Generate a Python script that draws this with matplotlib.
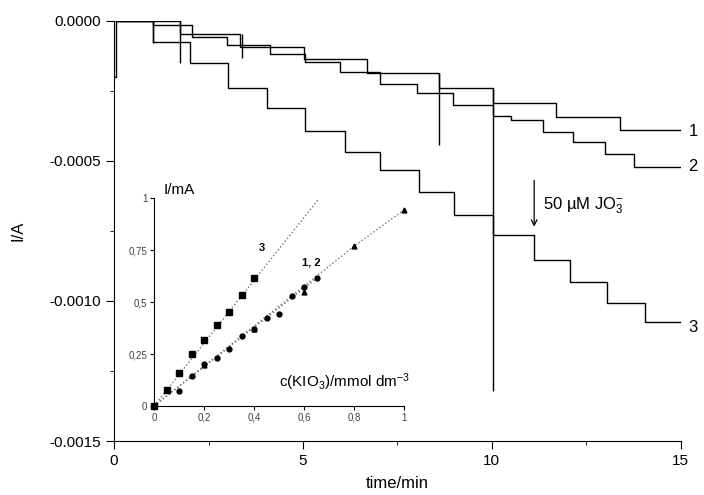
import numpy as np
import matplotlib
matplotlib.use("Agg")
import matplotlib.pyplot as plt
from matplotlib.ticker import MultipleLocator, FormatStrFormatter, FuncFormatter

plt.rcParams['font.family'] = ['Liberation Sans', 'DejaVu Sans']
plt.rcParams['mathtext.fontset'] = 'custom'
plt.rcParams['mathtext.rm'] = 'Liberation Sans'
plt.rcParams['mathtext.it'] = 'Liberation Sans'
plt.rcParams['axes.unicode_minus'] = False

# chronoamperometric traces, step times (min) and current levels (1e-4 A)
t1 = [0, 0.05, 1.75, 3.34, 5.04, 6.69, 8.61, 10.04, 11.7, 13.38, 15]
i1 = [-2.0, 0, -0.48, -0.95, -1.37, -1.88, -2.41, -2.95, -3.43, -3.9, -3.9]
t1_spike = [1.75, 3.38, 8.61, 10.04]
i1_spike = [-1.52, -1.33, -4.44, -13.2]

t2 = [0.05, 1.04, 2.06, 2.98, 4.13, 5.06, 5.98, 7.04, 8.01, 8.98, 10.04,
      10.5, 11.35, 12.15, 13.0, 13.75, 15]
i2 = [0, -0.15, -0.57, -0.87, -1.17, -1.46, -1.82, -2.24, -2.59, -3.0, -3.4,
      -3.55, -3.96, -4.32, -4.74, -5.21, -5.21]
t2_spike = [1.04]
i2_spike = [-0.81]

t3 = [0.05, 1.02, 2.01, 3.01, 4.04, 5.06, 6.1, 7.04, 8.06, 9.0, 10.04,
      11.12, 12.07, 13.04, 14.06, 15]
i3 = [0, -0.75, -1.52, -2.39, -3.13, -3.94, -4.68, -5.33, -6.1, -6.94, -7.65,
      -8.55, -9.32, -10.09, -10.75, -10.75]

# inset calibration data
c3 = [0, 0.05, 0.1, 0.15, 0.2, 0.25, 0.3, 0.35, 0.4]
I3 = [0, 0.075, 0.16, 0.25, 0.32, 0.39, 0.455, 0.535, 0.615]
c1 = [0, 0.1, 0.15, 0.2, 0.25, 0.3, 0.35, 0.4, 0.45, 0.5, 0.55, 0.6, 0.65]
I1 = [0, 0.072, 0.143, 0.2, 0.229, 0.274, 0.337, 0.369, 0.424, 0.443, 0.53, 0.575, 0.615]
c2 = [0, 0.2, 0.4, 0.6, 0.8, 1.0]
I2 = [0, 0.195, 0.37, 0.55, 0.77, 0.945]
fit3_c, fit3_I = [0, 0.66], [0, 1.0]
fit1_c, fit1_I = [0, 0.65], [0, 0.615]
fit2_c, fit2_I = [0, 0.8, 1.0], [0, 0.77, 0.945]

scale = 1e-4
fig = plt.figure(figsize=(7.04, 4.95), dpi=100)
ax = fig.add_axes([0.162, 0.109, 0.805, 0.849])

for t, i in [(t1, i1), (t2, i2), (t3, i3)]:
    ax.step(t, np.array(i) * scale, where='post', color='black', lw=1.0)

def level_at(t, i, x):
    k = np.searchsorted(t, x, side='right') - 1
    return i[max(k - 1, 0)]

for ts, isp, t, i in [(t1_spike, i1_spike, t1, i1), (t2_spike, i2_spike, t2, i2)]:
    tops = [level_at(t, i, x) * scale for x in ts]
    ax.vlines(ts, tops, np.array(isp) * scale, color='black', lw=1.0)

ax.set_xlim(0, 15)
ax.set_ylim(-0.0015, 0)
for s in ['top', 'right']:
    ax.spines[s].set_visible(False)
ax.xaxis.set_major_locator(MultipleLocator(5))
ax.xaxis.set_minor_locator(MultipleLocator(2.5))
ax.yaxis.set_major_locator(MultipleLocator(0.0005))
ax.yaxis.set_minor_locator(MultipleLocator(0.00025))
ax.yaxis.set_major_formatter(FormatStrFormatter('%.4f'))
ax.tick_params(which='major', direction='out', length=6, labelsize=11)
ax.tick_params(which='minor', direction='out', length=3)
ax.set_xlabel('time/min', fontsize=12)
ax.set_ylabel('I/A', fontsize=12)
ax.xaxis.set_label_coords(0.5, -0.082)
ax.yaxis.set_label_coords(-0.157, 0.5)

ax.text(15.2, -3.95e-4, '1', fontsize=12, va='center')
ax.text(15.2, -5.2e-4, '2', fontsize=12, va='center')
ax.text(15.2, -10.95e-4, '3', fontsize=12, va='center')

ax.annotate('', xy=(11.12, -7.45e-4), xytext=(11.12, -5.6e-4),
            arrowprops=dict(arrowstyle='->', color='black', lw=0.9))
ax.text(11.35, -6.6e-4, '50 µM JO$_3^{-}$', fontsize=12, va='center')

# inset
ins = fig.add_axes([0.219, 0.180, 0.355, 0.419])
ins.plot(fit3_c, fit3_I, ':', color='0.45', lw=1.0)
ins.plot(fit1_c, fit1_I, ':', color='0.45', lw=1.0)
ins.plot(fit2_c, fit2_I, ':', color='0.45', lw=1.0)
ins.plot(c3, I3, 's', color='black', ms=4.5, clip_on=False)
ins.plot(c1, I1, 'o', color='black', ms=3.5, clip_on=False)
ins.plot(c2, I2, '^', color='black', ms=3.5, clip_on=False)
ins.set_xlim(0, 1)
ins.set_ylim(0, 1)
ins.patch.set_alpha(0)
for s in ['top', 'right']:
    ins.spines[s].set_visible(False)
comma = FuncFormatter(lambda v, p: ('%g' % v).replace('.', ','))
ins.set_xticks([0, 0.2, 0.4, 0.6, 0.8, 1])
ins.set_yticks([0, 0.25, 0.5, 0.75, 1])
ins.xaxis.set_major_formatter(comma)
ins.yaxis.set_major_formatter(comma)
ins.tick_params(direction='out', length=3, labelsize=7, labelcolor='0.25', pad=2)
ins.text(0.036, 1.04, 'I/mA', fontsize=11, va='center')
ins.text(0.50, 0.116, 'c(KIO$_3$)/mmol dm$^{-3}$', fontsize=11, va='center')
ins.text(0.43, 0.76, '3', fontsize=8, fontweight='bold', ha='center', va='center')
ins.text(0.63, 0.69, '1, 2', fontsize=8, fontweight='bold', ha='center', va='center')

fig.savefig('out.png', dpi=100)
